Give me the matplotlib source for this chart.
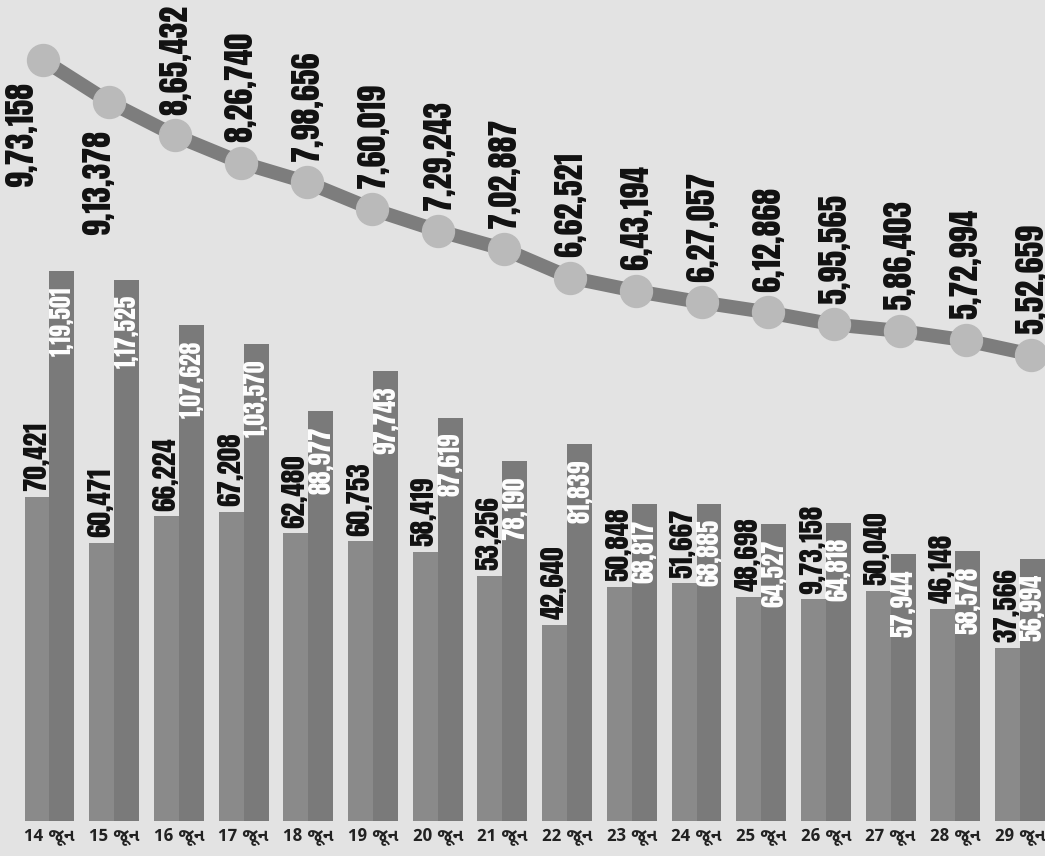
import numpy as np
import matplotlib
matplotlib.use('Agg')
from matplotlib import pyplot as plt

# data
dates = ['14 જૂન', '15 જૂન', '16 જૂન', '17 જૂન', '18 જૂન', '19 જૂન', '20 જૂન', '21 જૂન',
         '22 જૂન', '23 જૂન', '24 જૂન', '25 જૂન', '26 જૂન', '27 જૂન', '28 જૂન', '29 જૂન']
left_vals = [70421, 60471, 66224, 67208, 62480, 60753, 58419, 53256,
             42640, 50848, 51667, 48698, 48150, 50040, 46148, 37566]
right_vals = [119501, 117525, 107628, 103570, 88977, 97743, 87619, 78190,
              81839, 68817, 68885, 64527, 64818, 57944, 58578, 56994]
line_vals = [973158, 913378, 865432, 826740, 798656, 760019, 729243, 702887,
             662521, 643194, 627057, 612868, 595565, 586403, 572994, 552659]


def fmt_in(n):
    # indian digit grouping: 9,73,158
    s = str(n)
    if len(s) <= 3:
        return s
    head, tail = s[:-3], s[-3:]
    parts = []
    while len(head) > 2:
        parts.insert(0, head[-2:])
        head = head[:-2]
    if head:
        parts.insert(0, head)
    return ','.join(parts) + ',' + tail


left_labels = [fmt_in(v) for v in left_vals]
left_labels[12] = '9,73,158'  # printed this way on the original chart

tick_family = ['Noto Sans Gujarati UI', 'Noto Sans Gujarati', 'DejaVu Sans']
num_family = ['Anton', 'Oswald', 'DejaVu Sans']

bg = '#e3e3e3'
fig = plt.figure(figsize=(10.45, 8.56), dpi=100, facecolor=bg)

# bars
ax = fig.add_axes([0, 35 / 856, 1, 821 / 856])
ax.set_facecolor(bg)
x = np.arange(len(dates))
w = 0.385
ax.bar(x - w / 2, left_vals, w, color='#8a8a8a', zorder=2)
ax.bar(x + w / 2, right_vals, w, color='#7a7a7a', zorder=2)
ax.set_xlim(-0.765, 15.386)
ax.set_ylim(0, 178300)
for s in ax.spines.values():
    s.set_visible(False)
ax.set_yticks([])
ax.set_xticks(x, dates)
ax.tick_params(axis='x', length=0, pad=4)
for t in ax.get_xticklabels():
    t.set_family(tick_family)
    t.set_fontsize(12.5)
    t.set_fontweight('bold')
    t.set_color('#222222')

for i in range(len(dates)):
    ax.annotate(left_labels[i], (x[i] - w / 2, left_vals[i]), xytext=(-1, 4),
                textcoords='offset points', rotation=90, ha='center', va='bottom',
                fontsize=19.5, family=num_family, color='#111111', zorder=3)
    lab = fmt_in(right_vals[i])
    ax.annotate(lab, (x[i] + w / 2, right_vals[i]), xytext=(0, -11),
                textcoords='offset points', rotation=90, ha='center', va='top',
                fontsize=17 if len(lab) > 6 else 18, family=num_family,
                color='white', zorder=3)

# line on its own overlay axes
ax2 = fig.add_axes([0, 35 / 856, 1, 821 / 856])
ax2.patch.set_visible(False)
ax2.axis('off')
ax2.set_xlim(-0.6525, 15.205)
ax2.set_ylim(-113086, 1058688)
ax2.plot(x, line_vals, color='#7d7d7d', lw=10, zorder=2, solid_capstyle='round')
ax2.plot(x, line_vals, 'o', ms=23, color='#bababa', zorder=3)
for i in range(len(dates)):
    if i == 0:
        dx, dy, va = -16, -16, 'top'
    elif i == 1:
        dx, dy, va = -8, -20, 'top'
    else:
        dx, dy, va = 0, 15, 'bottom'
    ax2.annotate(fmt_in(line_vals[i]), (x[i], line_vals[i]), xytext=(dx, dy),
                 textcoords='offset points', rotation=90, ha='center', va=va,
                 fontsize=23, family=num_family, color='#111111', zorder=4)

fig.savefig('out.png', dpi=100, facecolor=bg)
